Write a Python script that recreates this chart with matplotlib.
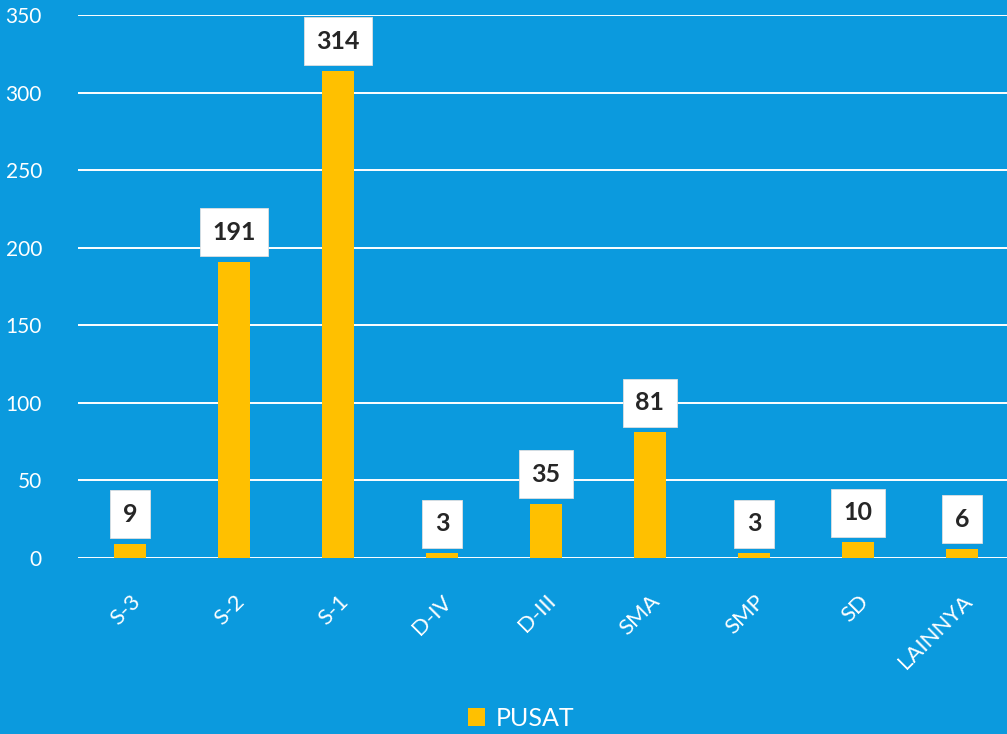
import matplotlib.pyplot as plt
from matplotlib.patches import Patch

# education level counts, PUSAT
categories = ['S-3', 'S-2', 'S-1', 'D-IV', 'D-III', 'SMA', 'SMP', 'SD', 'LAINNYA']
pusat = [9, 191, 314, 3, 35, 81, 3, 10, 6]
y_ticks = [0, 50, 100, 150, 200, 250, 300, 350]

bg = '#0B9ADE'
bar_color = '#FFC000'

plt.rcParams['font.family'] = ['Lato', 'DejaVu Sans']

fig = plt.figure(figsize=(10.07, 7.34), dpi=100)
fig.patch.set_facecolor(bg)
# axes runs a little past the right edge, as in the original
ax = fig.add_axes([78 / 1007, 176 / 734, 936 / 1007, 543 / 734])
ax.set_facecolor(bg)

x = list(range(len(categories)))
bars = ax.bar(x, pusat, width=0.31, color=bar_color, zorder=3)

ax.set_xlim(-0.5, len(categories) - 0.5)
ax.set_ylim(0, 350)
ax.set_yticks(y_ticks)
ax.set_yticklabels([str(v) for v in y_ticks], color='white', fontsize=15)
ax.yaxis.grid(True, color='white', linewidth=1.4, zorder=1)
ax.set_axisbelow(True)
ax.tick_params(axis='both', length=0)
ax.tick_params(axis='y', pad=26)
for s in ax.spines.values():
    s.set_visible(False)

ax.set_xticks(x)
ax.set_xticklabels(categories, color='white', fontsize=16, rotation=45,
                   ha='right', va='top', rotation_mode='anchor')
ax.tick_params(axis='x', pad=24)

# white boxed value labels
for xi, v in zip(x, pusat):
    ax.annotate(str(v), (xi, v), xytext=(0, 13), textcoords='offset points',
                ha='center', va='bottom', fontsize=18, fontweight='bold',
                color='#262626', zorder=5,
                bbox=dict(boxstyle='square,pad=0.5', facecolor='white',
                          edgecolor='#e0e0e0', linewidth=0.6))

fig.legend(handles=[Patch(facecolor=bar_color, label='PUSAT')],
           loc='center', bbox_to_anchor=(521 / 1007, 1 - 718 / 734),
           frameon=False, fontsize=18, labelcolor='white',
           handlelength=0.7, handleheight=0.7, handletextpad=0.4)

fig.savefig('out.png', dpi=100, facecolor=bg)
